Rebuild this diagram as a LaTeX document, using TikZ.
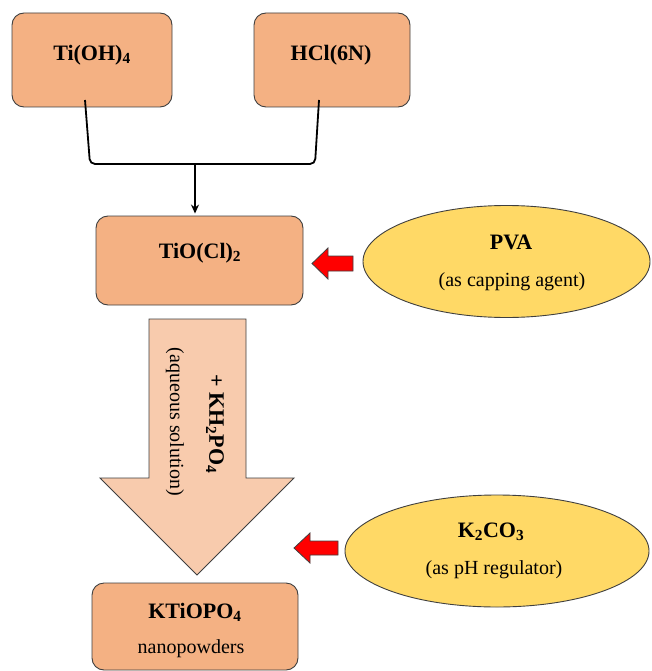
\documentclass[tikz,border=0pt]{standalone}
\usepackage{fontspec}
\setmainfont{Liberation Serif}
\usetikzlibrary{shapes.geometric,arrows.meta}
\definecolor{boxfill}{HTML}{F4B183}
\definecolor{ellfill}{HTML}{FFD966}
\definecolor{bigfill}{HTML}{F8CBAD}
\definecolor{edgecol}{HTML}{3F3F3F}
\definecolor{redfill}{HTML}{FF0000}
\begin{document}
\begin{tikzpicture}[x=1pt,y=-1pt,
  procbox/.style={draw=edgecol, line width=0.9pt, fill=boxfill, rounded corners=12pt, inner sep=0pt, rectangle},
  ellbox/.style={draw=edgecol, line width=0.9pt, fill=ellfill, ellipse, inner sep=0pt},
  boldtxt/.style={inner sep=0pt, font=\fontsize{22}{25}\selectfont\bfseries},
  regtxt/.style={inner sep=0pt, font=\fontsize{20}{23}\selectfont},
  bigarrow/.style={draw=edgecol, line width=0.9pt, fill=bigfill, line join=miter},
  redarrow/.style={draw=edgecol, line width=0.8pt, fill=redfill, line join=miter},
  joinline/.style={draw=black, line width=1.8pt, rounded corners=5pt},
  stemline/.style={draw=black, line width=1.3pt, -{Stealth[length=9pt,width=8pt]}}
]
\useasboundingbox (0,0) rectangle (651,671);

% process boxes
\node[procbox, minimum width=160pt, minimum height=94pt] (ti) at (92,60) {};
\node[procbox, minimum width=156pt, minimum height=94pt] (hcl) at (332,60) {};
\node[procbox, minimum width=207pt, minimum height=89pt] (tio) at (199.5,260.5) {};
\node[procbox, minimum width=206pt, minimum height=87pt] (kti) at (195,626.5) {};

\node[boldtxt] (tiT) at (92,55) {Ti(OH)\textsubscript{4}};
\node[boldtxt] (hclT) at (331,55) {HCl(6N)};
\node[boldtxt] (tioT) at (200,253) {TiO(Cl)\textsubscript{2}};
\node[boldtxt] (ktiT) at (195,612) {KTiOPO\textsubscript{4}};
\node[regtxt] (ktiS) at (191,649) {nanopowders};

% joining connector
\coordinate (c1) at (85,100);
\coordinate (c2) at (319,100);
\coordinate (cm) at (195,164);
\draw[joinline] (c1) -- (90,164) -- (315,164) -- (c2);
\draw[stemline, shorten >=2pt] (cm) -- (cm |- tio.north);

% big arrow
\draw[bigarrow] (149,319) -- (246,319) -- (246,478) -- (294,478) -- (197,575) -- (100,478) -- (149,478) -- cycle;
\node[boldtxt, rotate=-90] (khT) at (215,424) {+ KH\textsubscript{2}PO\textsubscript{4}};
\node[regtxt, rotate=-90] (aqT) at (175,422) {(aqueous solution)};

% ellipses
\node[ellbox, minimum width=287pt, minimum height=112pt] (pva) at (506.5,261.5) {};
\node[boldtxt] (pvaT) at (511,242) {PVA};
\node[regtxt] (pvaS) at (512,282) {(as capping agent)};

\node[ellbox, minimum width=304pt, minimum height=112pt] (kco) at (497,551) {};
\node[boldtxt] (kcoT) at (491,532) {K\textsubscript{2}CO\textsubscript{3}};
\node[regtxt] (kcoS) at (494,570) {(as pH regulator)};

% red arrows
\draw[redarrow] (312,263.5) -- (328,248) -- (328,256) -- (353,256) -- (353,271) -- (328,271) -- (328,279) -- cycle;
\draw[redarrow] (294,548) -- (310,533) -- (310,541) -- (338,541) -- (338,555) -- (310,555) -- (310,563) -- cycle;
\end{tikzpicture}
\end{document}
